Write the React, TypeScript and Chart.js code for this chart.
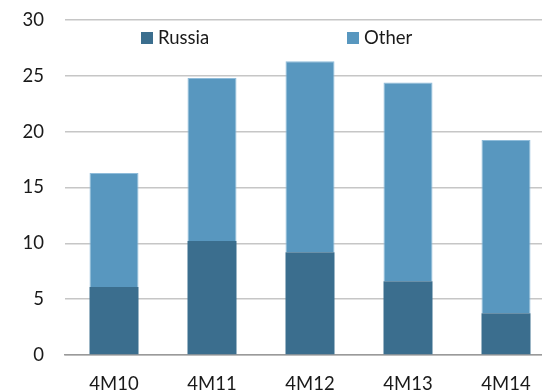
import React, { useEffect, useRef } from "react";
import { Chart, registerables } from "chart.js";

Chart.register(...registerables);

const categories = ["4M10", "4M11", "4M12", "4M13", "4M14"];
const russia = [6.1, 10.2, 9.2, 6.6, 3.75];
const other = [10.2, 14.6, 17.1, 17.8, 15.5];
const seriesNames = ["Russia", "Other"];
const seriesColors = ["#3b6e8e", "#5897bf"];
const yTicks = [0, 5, 10, 15, 20, 25, 30];

const FONT = "Lato, 'Open Sans', sans-serif";
const FONT_SIZE = 18.5;

// Legend sits inside the plot, between the top two gridlines
const legendPlugin = {
  id: "innerLegend",
  afterDraw(chart: any) {
    const { ctx, chartArea } = chart;
    const offsets = [76, 282];
    ctx.save();
    ctx.font = `${FONT_SIZE}px ${FONT}`;
    ctx.textBaseline = "middle";
    ctx.textAlign = "left";
    chart.data.datasets.forEach((ds: any, i: number) => {
      const x = chartArea.left + offsets[i];
      const y = chartArea.top + 12;
      ctx.fillStyle = ds.backgroundColor;
      ctx.fillRect(x, y, 12, 12);
      ctx.fillStyle = "#1a1a1a";
      ctx.fillText(ds.label, x + 17, y + 6);
    });
    ctx.restore();
  },
};

export default function App() {
  const canvasRef = useRef<HTMLCanvasElement | null>(null);

  useEffect(() => {
    if (!canvasRef.current) return;
    const chart = new Chart(canvasRef.current, {
      type: "bar",
      data: {
        labels: categories,
        datasets: [
          {
            label: seriesNames[0],
            data: russia,
            backgroundColor: seriesColors[0],
            borderWidth: 0,
          },
          {
            label: seriesNames[1],
            data: other,
            backgroundColor: seriesColors[1],
            borderColor: "#8fbcda",
            borderWidth: 1,
          },
        ],
      },
      options: {
        animation: false,
        responsive: false,
        layout: { padding: { left: 0, right: 5, top: 20, bottom: 0 } },
        datasets: {
          bar: { barPercentage: 0.5, categoryPercentage: 1 },
        },
        plugins: {
          legend: { display: false },
          tooltip: { enabled: false },
        },
        scales: {
          x: {
            stacked: true,
            grid: { display: false },
            border: { display: true, color: "#9a9a9a", width: 1.5 },
            ticks: {
              color: "#1a1a1a",
              font: { family: FONT, size: FONT_SIZE },
              padding: 10,
              maxRotation: 0,
            },
            afterFit(scale: any) {
              scale.height = 36;
            },
          },
          y: {
            stacked: true,
            min: 0,
            max: 30,
            afterBuildTicks(scale: any) {
              scale.ticks = yTicks.map((v) => ({ value: v }));
            },
            // invisible tick marks keep the labels clear of the axis
            grid: {
              color: "#c6c6c6",
              lineWidth: 1.5,
              drawTicks: true,
              tickLength: 21,
              tickColor: "rgba(0,0,0,0)",
            },
            border: { display: false },
            ticks: {
              color: "#1a1a1a",
              font: { family: FONT, size: FONT_SIZE },
              padding: 0,
            },
            afterFit(scale: any) {
              scale.width = 65;
            },
          },
        },
      },
      plugins: [legendPlugin],
    });
    return () => chart.destroy();
  }, []);

  return (
    <div
      style={{
        position: "fixed",
        left: 0,
        top: 0,
        width: 542,
        height: 391,
        overflow: "hidden",
        background: "#ffffff",
      }}
    >
      <canvas ref={canvasRef} width={560} height={391} style={{ display: "block" }} />
    </div>
  );
}
